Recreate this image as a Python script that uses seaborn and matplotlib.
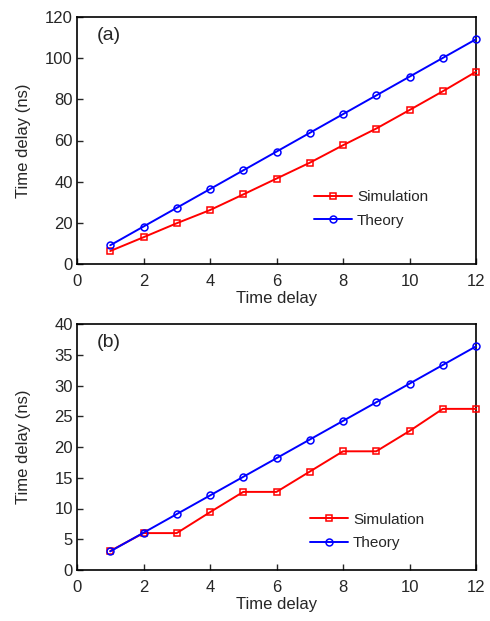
import matplotlib
matplotlib.use("Agg")
import matplotlib.pyplot as plt
import seaborn as sns

x = [1, 2, 3, 4, 5, 6, 7, 8, 9, 10, 11, 12]

# panel (a)
sim_a = [6.3, 13.0, 19.8, 26.2, 33.8, 41.5, 49.2, 57.7, 65.8, 74.8, 83.9, 93.4]
theory_a = [9.1, 18.2, 27.3, 36.4, 45.5, 54.6, 63.7, 72.8, 81.9, 91.0, 100.1, 109.2]

# panel (b)
sim_b = [3.1, 6.0, 6.0, 9.4, 12.7, 12.7, 16.0, 19.3, 19.3, 22.6, 26.2, 26.2]
theory_b = [3.03, 6.06, 9.09, 12.12, 15.15, 18.18, 21.21, 24.24, 27.27, 30.3, 33.33, 36.36]

sns.set_style("ticks")
plt.rcParams['font.family'] = ['Liberation Sans', 'DejaVu Sans']
plt.rcParams['font.size'] = 12

fig = plt.figure(figsize=(4.9, 6.21), dpi=100)
ax1 = fig.add_axes([77/490, 1 - 264/621, 399/490, 247/621])
ax2 = fig.add_axes([77/490, 1 - 570/621, 399/490, 246/621])

panels = [
    (ax1, sim_a, theory_a, 120, 20, "(a)", (0.56, 0.223)),
    (ax2, sim_b, theory_b, 40, 5, "(b)", (0.55, 0.156)),
]

for ax, sim, th, ymax, ystep, tag, legpos in panels:
    sns.lineplot(x=x, y=sim, ax=ax, color="red", marker="s", markersize=5,
                 markerfacecolor="none", markeredgecolor="red", markeredgewidth=1.1,
                 linewidth=1.4, label="Simulation", clip_on=False, zorder=3)
    sns.lineplot(x=x, y=th, ax=ax, color="blue", marker="o", markersize=5,
                 markerfacecolor="none", markeredgecolor="blue", markeredgewidth=1.1,
                 linewidth=1.4, label="Theory", clip_on=False, zorder=3)
    ax.set_xlim(0, 12)
    ax.set_ylim(0, ymax)
    ax.set_xticks(range(0, 13, 2))
    ax.set_yticks(range(0, ymax + 1, ystep))
    ax.tick_params(direction="in", length=4, width=1, labelsize=12,
                   top=False, right=False)
    ax.tick_params(axis="x", pad=7)
    ax.tick_params(axis="y", pad=3)
    for s in ax.spines.values():
        s.set_linewidth(1.2)
        s.set_color("black")
    ax.set_xlabel("Time delay", fontsize=12, labelpad=1.5)
    ax.set_ylabel("Time delay (ns)", fontsize=12)
    ax.yaxis.set_label_coords(-0.115, 0.5)
    ax.text(0.05, 0.96, tag, transform=ax.transAxes, fontsize=14, va="top")
    ax.legend(loc="center left", bbox_to_anchor=legpos, frameon=False,
              fontsize=11, handlelength=2.5, handletextpad=0.3, labelspacing=0.63)

fig.savefig("out.png", dpi=100)
